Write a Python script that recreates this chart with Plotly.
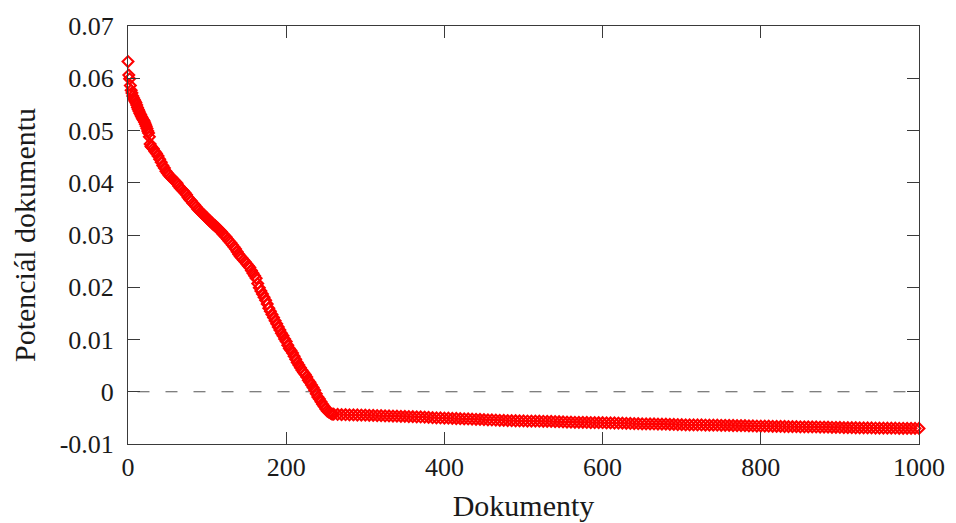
import plotly.graph_objects as go

# Document indices (dense at start, sparser in the flat tail)
docs_head = list(range(0, 30))
vals_head = [0.0632, 0.0606, 0.0599, 0.0586, 0.0577, 0.0572, 0.0566, 0.0562, 0.0559, 0.0556,
             0.0553, 0.0549, 0.0544, 0.0540, 0.0537, 0.0533, 0.0530, 0.0527, 0.0524, 0.0521,
             0.0519, 0.0516, 0.0512, 0.0508, 0.0504, 0.0499, 0.0495, 0.0488, 0.0474, 0.0470]

docs_mid = list(range(30, 260, 2))
vals_mid = [0.0468, 0.0465, 0.0460, 0.0456, 0.0451, 0.0445, 0.0439, 0.0433, 0.0428, 0.0422,
            0.0418, 0.0414, 0.0411, 0.0408, 0.0405, 0.0402, 0.0399, 0.0394, 0.0390, 0.0387,
            0.0384, 0.0381, 0.0377, 0.0372, 0.0368, 0.0365, 0.0361, 0.0358, 0.0354, 0.0350,
            0.0347, 0.0344, 0.0341, 0.0338, 0.0335, 0.0332, 0.0329, 0.0326, 0.0323, 0.0320,
            0.0318, 0.0315, 0.0312, 0.0309, 0.0306, 0.0302, 0.0299, 0.0296, 0.0292, 0.0288,
            0.0285, 0.0281, 0.0277, 0.0273, 0.0268, 0.0263, 0.0259, 0.0256, 0.0252, 0.0249,
            0.0245, 0.0241, 0.0238, 0.0232, 0.0227, 0.0222, 0.0217, 0.0207, 0.0199, 0.0193,
            0.0187, 0.0181, 0.0175, 0.0168, 0.0160, 0.0154, 0.0148, 0.0142, 0.0136, 0.0130,
            0.0124, 0.0118, 0.0112, 0.0107, 0.0101, 0.0096, 0.0089, 0.0083, 0.0079, 0.0074,
            0.0068, 0.0062, 0.0056, 0.0051, 0.0046, 0.0041, 0.0037, 0.0033, 0.0028, 0.0022,
            0.0018, 0.0013, 0.0008, 0.0003, -0.0004, -0.0010, -0.0014, -0.0019, -0.0024, -0.0028,
            -0.0033, -0.0037, -0.0039, -0.0041, -0.0043]

docs_tail = list(range(260, 1001, 5))
vals_tail = [-0.00430, -0.00435, -0.00438, -0.00440, -0.00442, -0.00443, -0.00445, -0.00447, -0.00449, -0.00451,
             -0.00453, -0.00455, -0.00457, -0.00460, -0.00462, -0.00465, -0.00467, -0.00470, -0.00472, -0.00474,
             -0.00477, -0.00480, -0.00483, -0.00487, -0.00490, -0.00497, -0.00500, -0.00502, -0.00505, -0.00507,
             -0.00510, -0.00512, -0.00515, -0.00518, -0.00521, -0.00524, -0.00527, -0.00530, -0.00533, -0.00536,
             -0.00540, -0.00543, -0.00547, -0.00549, -0.00551, -0.00553, -0.00555, -0.00557, -0.00558, -0.00560,
             -0.00561, -0.00562, -0.00564, -0.00565, -0.00567, -0.00568, -0.00570, -0.00572, -0.00575, -0.00580,
             -0.00582, -0.00584, -0.00585, -0.00586, -0.00588, -0.00589, -0.00590, -0.00592, -0.00593, -0.00595,
             -0.00596, -0.00598, -0.00600, -0.00602, -0.00604, -0.00607, -0.00610, -0.00612, -0.00613, -0.00615,
             -0.00616, -0.00617, -0.00619, -0.00620, -0.00621, -0.00623, -0.00625, -0.00627, -0.00630, -0.00632,
             -0.00633, -0.00634, -0.00635, -0.00636, -0.00637, -0.00639, -0.00640, -0.00641, -0.00642, -0.00643,
             -0.00645, -0.00646, -0.00647, -0.00648, -0.00650, -0.00652, -0.00654, -0.00656, -0.00658, -0.00659,
             -0.00660, -0.00662, -0.00663, -0.00664, -0.00665, -0.00667, -0.00668, -0.00669, -0.00670, -0.00671,
             -0.00672, -0.00673, -0.00674, -0.00675, -0.00676, -0.00678, -0.00680, -0.00682, -0.00684, -0.00686,
             -0.00687, -0.00688, -0.00689, -0.00690, -0.00691, -0.00692, -0.00693, -0.00694, -0.00695, -0.00696,
             -0.00697, -0.00697, -0.00698, -0.00699, -0.00699, -0.00700, -0.00700, -0.00701, -0.00702]

x_ticks = [0, 200, 400, 600, 800, 1000]
x_tick_labels = ["0", "200", "400", "600", "800", "1000"]
y_ticks = [-0.01, 0, 0.01, 0.02, 0.03, 0.04, 0.05, 0.06, 0.07]
y_tick_labels = ["-0.01", "0", "0.01", "0.02", "0.03", "0.04", "0.05", "0.06", "0.07"]

docs = docs_head + docs_mid + docs_tail
vals = vals_head + vals_mid + vals_tail

FONT = "Liberation Serif"
AX = "#3a3a3a"

fig = go.Figure()
fig.add_trace(go.Scatter(
    x=docs, y=vals, mode="markers",
    marker=dict(symbol="diamond-open", size=8.3, color="#ff0000", line=dict(width=2.1, color="#ff0000")),
    cliponaxis=False, showlegend=False,
))

fig.add_shape(type="line", xref="paper", yref="y", x0=0.012, x1=0.99, y0=0, y1=0,
              line=dict(color="#555555", width=1.2, dash="12px,16px"), layer="below")

fig.update_layout(
    width=948, height=515,
    margin=dict(l=120, r=37, t=18, b=79, autoexpand=False),
    paper_bgcolor="white", plot_bgcolor="white",
    font=dict(family=FONT, size=26, color="#1a1a1a"),
    xaxis=dict(range=[0, 1000], tickvals=x_ticks, ticktext=x_tick_labels, automargin=False,
               showgrid=False, zeroline=False, showline=True, linecolor=AX, linewidth=1,
               mirror="ticks", ticks="inside", ticklen=12, tickcolor=AX, tickwidth=1,
               title=dict(text="Dokumenty", standoff=13, font=dict(size=30))),
    yaxis=dict(range=[-0.01, 0.07], tickvals=y_ticks, ticktext=y_tick_labels, automargin=False,
               showgrid=False, zeroline=False, showline=True, linecolor=AX, linewidth=1,
               mirror="ticks", ticks="inside", ticklen=12, tickcolor=AX, tickwidth=1,
               ticklabelstandoff=8,
               title=dict(text="Potenciál dokumentu", standoff=30, font=dict(size=30))),
)

fig.write_html("out.html")
